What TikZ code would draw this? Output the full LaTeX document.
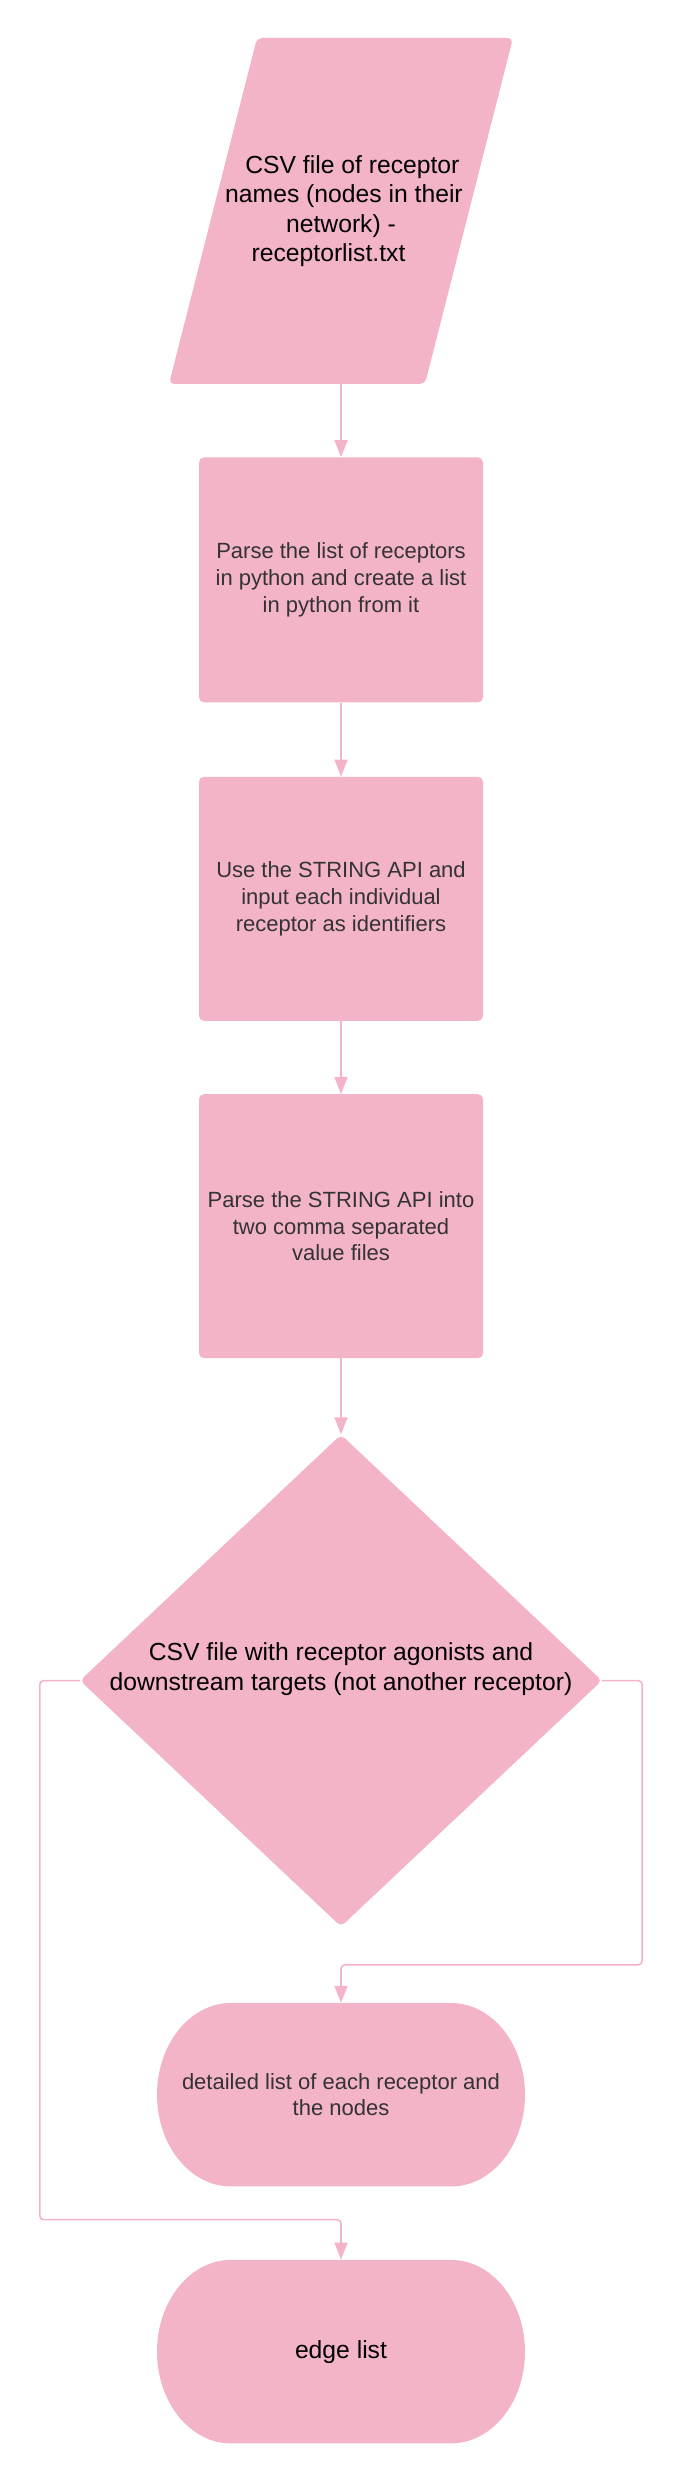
\documentclass[tikz,border=0pt]{standalone}
\usepackage{fontspec}
\setmainfont{Liberation Sans}
\usetikzlibrary{arrows.meta,positioning,shapes.geometric}
\definecolor{lucidpink}{HTML}{F4B4C8}
\definecolor{lucidtext}{HTML}{333333}
\newcommand{\bigtext}{\fontsize{24.7}{29.5}\selectfont}
\newcommand{\smalltext}{\fontsize{22}{26.7}\selectfont}

\begin{document}
\begin{tikzpicture}[x=1pt, y=1pt,
		shapebase/.style={fill=lucidpink, draw=none, inner sep=0pt, align=center},
		datafile/.style={rectangle, inner sep=0pt, align=center, minimum width=344pt, minimum height=346pt,
			font=\bigtext, text=black,
			path picture={\fill[lucidpink, rounded corners=5pt] ([xshift=88pt]path picture bounding box.north west)
				-- (path picture bounding box.north east)
				-- ([xshift=-88pt]path picture bounding box.south east)
				-- (path picture bounding box.south west) -- cycle;}},
		stepbox/.style={shapebase, rectangle, rounded corners=5pt, minimum width=284pt,
			font=\smalltext, text=lucidtext},
		choice/.style={shapebase, diamond, aspect=1.06, inner sep=-10pt, minimum width=522pt, minimum height=492pt,
			rounded corners=5pt, font=\bigtext, text=black, text depth=28pt},
		outcome/.style={rectangle, inner sep=0pt, align=center, minimum width=368pt, minimum height=183.5pt,
			path picture={\fill[lucidpink] ([xshift=74pt]path picture bounding box.north west)
				-- ([xshift=-74pt]path picture bounding box.north east)
				arc[start angle=90, end angle=-90, x radius=74pt, y radius=91.75pt]
				-- ([xshift=74pt]path picture bounding box.south west)
				arc[start angle=270, end angle=90, x radius=74pt, y radius=91.75pt] -- cycle;}},
		link/.style={draw=lucidpink, line width=1.6pt, rounded corners=4pt,
			-{Triangle[length=17pt, width=13pt]}}]
		%%%%% START %%%%%
		\useasboundingbox (0, 0) rectangle (683, 2481);

		\node[datafile] (receptors) at (341, 2270)
			{\hspace*{22.8pt}CSV file of receptor\\ \hspace*{6pt}names (nodes in their\\ network) -\hspace*{9pt}\\ receptorlist.txt\hspace*{25pt}};
		\node[stepbox, minimum height=245pt, below=73pt of receptors] (parse)
			{Parse the list of receptors\\ in python and create a list\\ in python from it};
		\node[stepbox, minimum height=244pt, below=74pt of parse] (api)
			{Use the STRING API and\\ input each individual\\ receptor as identifiers};
		\node[stepbox, minimum height=264pt, below=73pt of api] (split)
			{Parse the STRING API into\\ two comma separated\\ value files};
		\node[choice, below=76pt of split] (csv)
			{CSV file with receptor agonists and\\ downstream targets (not another receptor)};
		\node[outcome, font=\smalltext, text=lucidtext, below=76pt of csv] (nodelist)
			{detailed list of each receptor and\\ the nodes};
		\node[outcome, font=\bigtext, text=black, below=73pt of nodelist] (edgelist)
			{edge list};

		\draw[link] (receptors) -- (parse);
		\draw[link] (parse) -- (api);
		\draw[link] (api) -- (split);
		\draw[link] (split) -- (csv);
		\draw[link] (csv.east) -- ++(40, 0) |- ([yshift=38pt]nodelist.north) -- (nodelist.north);
		\draw[link] (csv.west) -- ++(-40, 0) |- ([yshift=40pt]edgelist.north) -- (edgelist.north);
		%%%%% END %%%%%
	\end{tikzpicture}
\end{document}
